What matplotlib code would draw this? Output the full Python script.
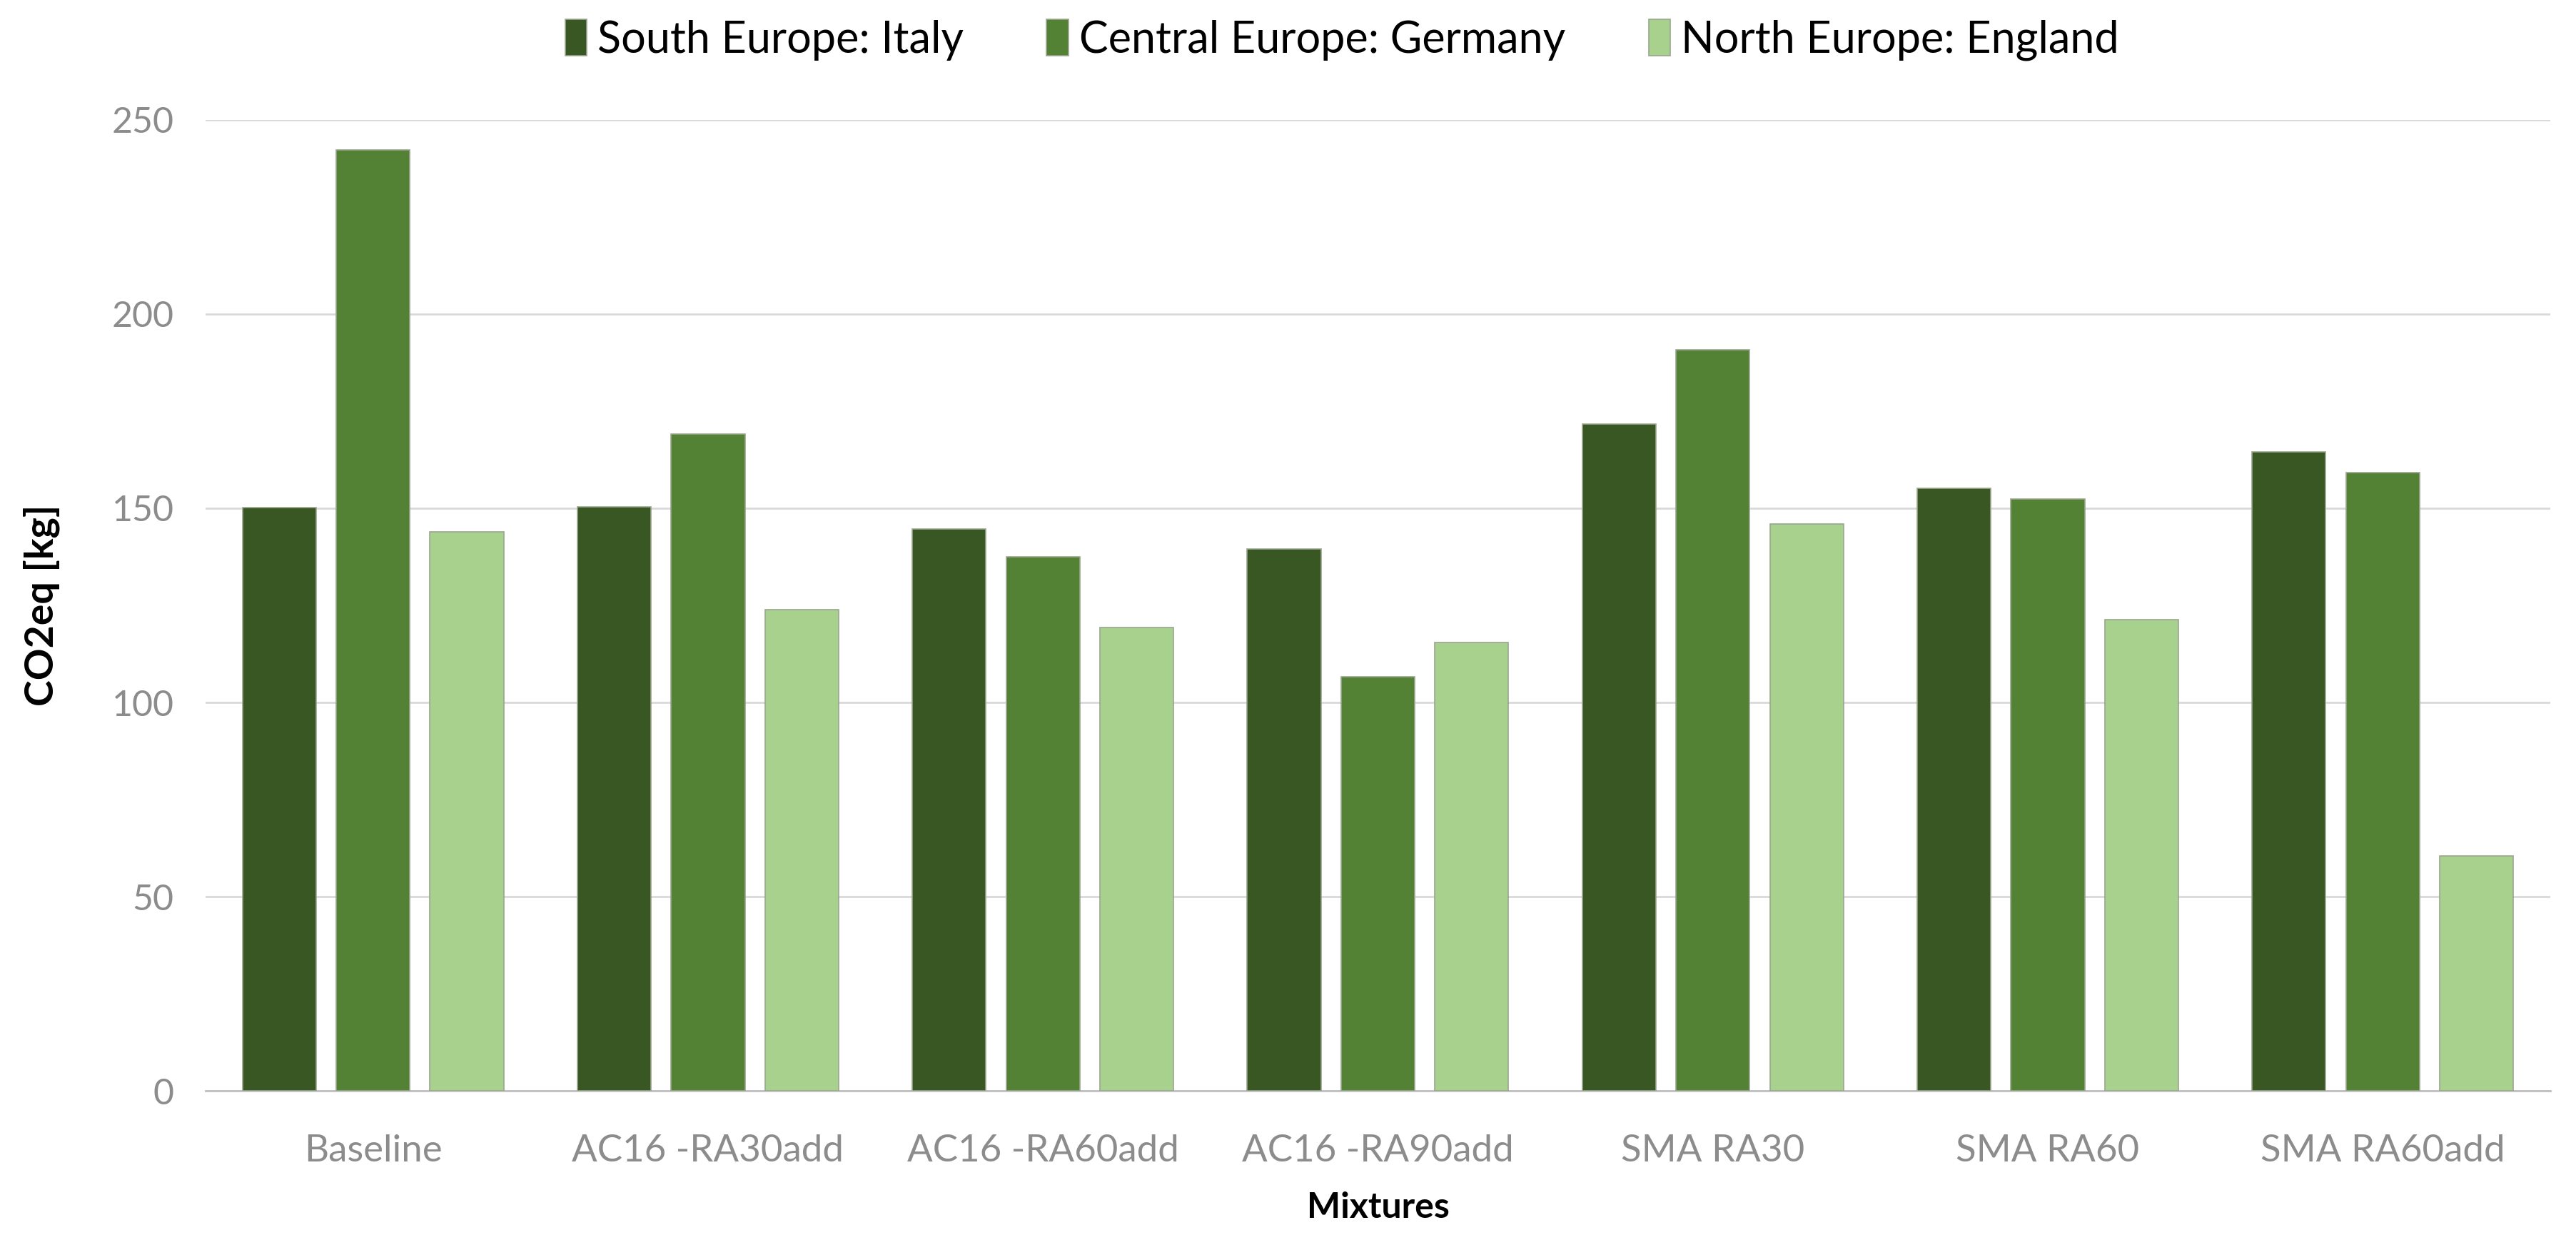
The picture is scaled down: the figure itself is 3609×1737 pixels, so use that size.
import matplotlib.pyplot as plt
import numpy as np

plt.rcParams['font.family'] = ['Lato', 'DejaVu Sans']

mixtures = ['Baseline', 'AC16 -RA30add', 'AC16 -RA60add', 'AC16 -RA90add',
            'SMA RA30', 'SMA RA60', 'SMA RA60add']
italy = [150.2, 150.4, 144.7, 139.6, 171.7, 155.2, 164.6]
germany = [242.2, 169.2, 137.5, 106.6, 190.8, 152.3, 159.1]
england = [144.0, 123.9, 119.3, 115.5, 145.9, 121.4, 60.5]
series_names = ['South Europe: Italy', 'Central Europe: Germany', 'North Europe: England']
colors = ['#385723', '#548235', '#a9d18e']

fig = plt.figure(figsize=(18.045, 8.685), dpi=200)
ax = fig.add_axes([0.0798, 0.1203, 0.9102, 0.783])

x = np.arange(len(mixtures))
w = 0.22
step = 0.28
for i, (vals, name, c) in enumerate(zip([italy, germany, england], series_names, colors)):
    ax.bar(x + (i - 1) * step, vals, w, color=c, label=name,
           edgecolor='#9aa58f', linewidth=0.6, zorder=3)

ax.set_xlim(-0.5, len(mixtures) - 0.5)
ax.set_ylim(0, 250)
ax.set_yticks(range(0, 251, 50))
ax.yaxis.grid(True, color='#d9d9d9', linewidth=1.0, zorder=0)
ax.set_axisbelow(True)
for s in ['top', 'right', 'left']:
    ax.spines[s].set_visible(False)
ax.spines['bottom'].set_color('#bfbfbf')
ax.spines['bottom'].set_linewidth(1.0)
ax.tick_params(axis='y', length=0, labelsize=18, colors='#8c8c8c', pad=16)
ax.tick_params(axis='x', length=0, labelsize=19, colors='#8c8c8c', pad=22)
ax.set_xticks(x)
ax.set_xticklabels(mixtures)

ax.set_ylabel('CO2eq [kg]', fontsize=20, fontweight='bold', labelpad=26)
ax.set_xlabel('Mixtures', fontsize=18, fontweight='bold', labelpad=12)

fig.legend(loc='upper center', bbox_to_anchor=(0.521, 1.016), ncol=3, frameon=False,
           fontsize=22, handlelength=0.5, handleheight=0.9, handletextpad=0.25,
           columnspacing=1.9)

plt.savefig('out.png', dpi=200)
